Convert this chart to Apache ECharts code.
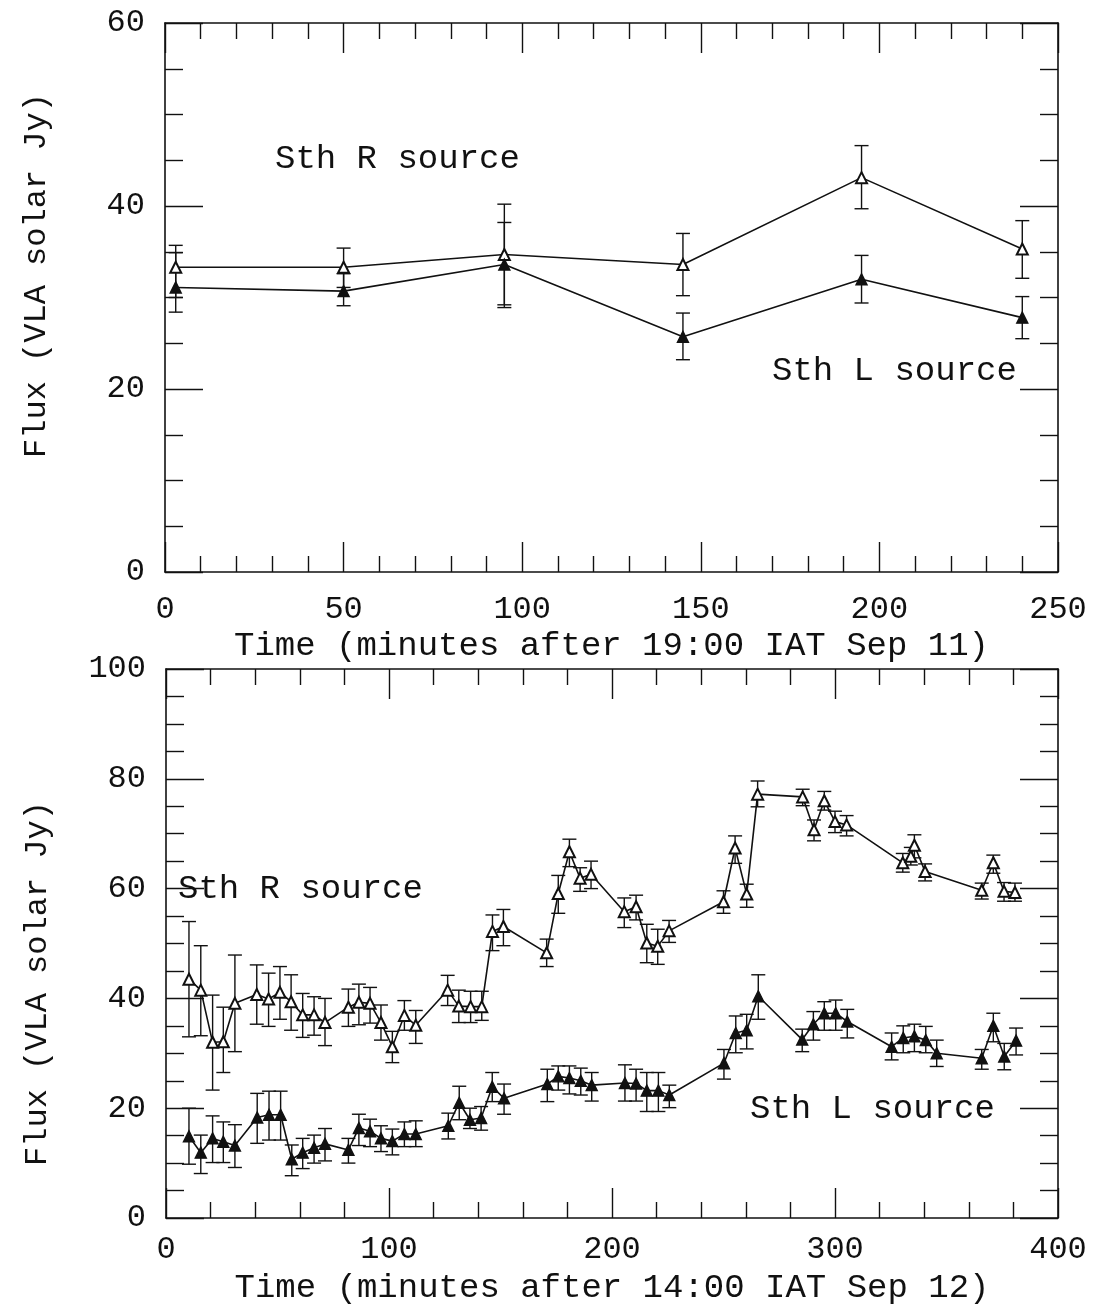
<!DOCTYPE html>
<html>
<head>
<meta charset="utf-8">
<title>VLA solar flux of the southern sources</title>
<script src="https://cdn.jsdelivr.net/npm/echarts@6/dist/echarts.min.js"></script>
<style>
  html, body { margin: 0; padding: 0; background: #fff; }
  #chart { width: 1098px; height: 1313px; }
</style>
</head>
<body>
<div id="chart"></div>
<script>
// ---- Upper panel: Sep 11, minutes after 19:00 IAT ----
const topTime  = [3, 50, 95, 145, 195, 240];
const topFluxR = [33.3, 33.3, 34.7, 33.6, 43.1, 35.3];
const topLoR   = [30.0, 31.1, 29.2, 30.2, 39.7, 32.1];
const topHiR   = [35.7, 35.4, 40.2, 37.0, 46.6, 38.4];
const topFluxL = [31.1, 30.7, 33.6, 25.7, 32.0, 27.8];
const topLoL   = [28.4, 29.1, 28.9, 23.2, 29.4, 25.5];
const topHiL   = [34.9, 32.6, 38.2, 28.3, 34.6, 30.1];

// ---- Lower panel: Sep 12, minutes after 14:00 IAT ----
const botTimeR = [10.3, 15.6, 20.9, 25.7, 30.9, 40.7, 46.0, 51.1, 56.1, 61.3, 66.4, 71.3,
  81.8, 86.5, 91.5, 96.4, 101.5, 106.9, 112.0, 126.3, 131.3, 136.6, 141.6, 146.4, 151.3,
  170.7, 175.9, 180.9, 185.7, 190.6, 205.5, 210.8, 215.6, 220.5, 225.6, 250.0, 255.2,
  260.4, 265.3, 285.5, 290.6, 295.2, 300.0, 305.2, 330.4, 334.0, 335.6, 340.4, 365.8,
  371.0, 375.8, 380.7];
const botFluxR = [43.5, 41.5, 32.0, 32.1, 39.1, 40.7, 39.9, 41.1, 39.4, 37.0, 37.0, 35.6,
  38.4, 39.3, 39.1, 35.6, 31.2, 36.9, 35.1, 41.5, 38.6, 38.5, 38.5, 52.2, 53.1,
  48.3, 59.1, 66.7, 61.9, 62.6, 55.8, 56.7, 50.1, 49.5, 52.3, 57.6, 67.4,
  59.0, 77.2, 76.7, 70.7, 76.0, 72.2, 71.6, 64.7, 65.9, 67.9, 63.1, 59.7,
  64.7, 59.5, 59.3];
const botLoR = [33.0, 33.2, 23.3, 26.5, 30.3, 35.3, 34.9, 36.2, 34.2, 32.9, 33.3, 31.4,
  34.9, 35.2, 35.5, 32.4, 28.3, 34.2, 31.8, 38.7, 35.6, 35.6, 36.0, 48.7, 49.6,
  45.8, 55.5, 64.0, 59.5, 60.0, 52.9, 54.3, 46.5, 46.2, 50.2, 55.5, 64.6,
  56.6, 74.9, 75.1, 68.7, 74.3, 70.2, 69.6, 63.0, 64.3, 65.6, 61.4, 58.1,
  62.8, 57.7, 57.7];
const botHiR = [54.0, 49.6, 40.6, 38.4, 47.9, 46.1, 44.6, 45.8, 44.3, 40.9, 40.3, 40.0,
  41.7, 42.6, 42.0, 38.8, 34.0, 39.6, 37.8, 44.2, 41.5, 41.3, 41.3, 55.2, 56.2,
  50.8, 62.4, 69.0, 63.8, 65.0, 58.3, 58.8, 53.5, 52.6, 54.2, 59.6, 69.6,
  60.8, 79.6, 78.1, 72.5, 77.7, 74.1, 73.3, 66.4, 67.5, 69.8, 64.5, 61.0,
  66.1, 61.1, 61.0];

const botTimeL = [10.3, 15.6, 20.9, 25.7, 30.9, 40.9, 46.2, 51.4, 56.4, 61.3, 66.4, 71.3,
  81.8, 86.5, 91.5, 96.4, 101.5, 106.9, 112.0, 126.6, 131.5, 136.3, 141.3, 146.3, 151.6,
  171.0, 175.9, 180.9, 186.0, 190.9, 205.8, 210.8, 215.6, 220.8, 225.7, 250.2, 255.5,
  260.4, 265.6, 285.3, 290.3, 295.2, 300.3, 305.5, 325.4, 330.6, 335.6, 340.7, 345.6,
  365.8, 371.0, 375.9, 381.2];
const botFluxL = [14.9, 11.9, 14.5, 13.9, 13.2, 18.3, 18.8, 18.8, 10.7, 11.9, 12.8, 13.5,
  12.4, 16.4, 15.8, 14.5, 14.0, 15.3, 15.3, 16.8, 21.0, 17.9, 18.2, 23.9, 21.8,
  24.4, 25.8, 25.5, 25.0, 24.2, 24.6, 24.5, 23.2, 23.2, 22.4, 28.2, 33.7,
  34.2, 40.4, 32.5, 35.3, 37.3, 37.3, 35.8, 31.2, 32.8, 33.1, 32.4, 30.0,
  29.1, 35.0, 29.4, 32.3];
const botLoL = [9.8, 8.1, 10.1, 10.1, 9.2, 13.6, 14.2, 14.2, 7.7, 9.0, 10.0, 10.4,
  10.0, 13.2, 13.0, 12.1, 11.5, 13.0, 13.0, 14.4, 17.9, 16.3, 16.0, 21.2, 18.9,
  21.2, 23.3, 22.6, 22.4, 21.3, 21.3, 21.3, 19.4, 19.4, 20.1, 25.3, 30.1,
  30.8, 36.2, 30.3, 32.4, 34.2, 34.2, 32.8, 28.8, 30.1, 30.3, 30.1, 27.6,
  27.1, 32.1, 27.0, 29.7];
const botHiL = [20.0, 15.1, 18.6, 17.5, 17.0, 22.7, 23.1, 23.1, 13.3, 14.5, 15.1, 16.3,
  14.5, 18.9, 18.0, 16.8, 16.2, 17.5, 17.7, 19.1, 24.0, 20.0, 20.3, 26.5, 24.4,
  27.1, 27.7, 27.7, 27.3, 26.5, 27.9, 27.1, 26.5, 26.5, 24.2, 30.7, 36.8,
  37.1, 44.3, 34.4, 37.6, 39.4, 39.7, 38.0, 33.7, 35.0, 35.3, 34.9, 32.4,
  30.7, 37.3, 31.8, 34.6];

// Axis tick labels
const topXTicks = [0, 50, 100, 150, 200, 250];
const topYTicks = [0, 20, 40, 60];
const botXTicks = [0, 100, 200, 300, 400];
const botYTicks = [0, 20, 40, 60, 80, 100];

const FONT = '"Liberation Mono", "Courier New", monospace';
const INK = '#111';

const zip2 = (a, b) => a.map((v, i) => [v, b[i]]);
const zip3 = (a, b, c) => a.map((v, i) => [v, b[i], c[i]]);

// vertical error bar with short horizontal caps
function renderErrorBar(params, api) {
  const x = api.value(0);
  const lo = api.coord([x, api.value(1)]);
  const hi = api.coord([x, api.value(2)]);
  const w = 7;
  const style = { stroke: INK, lineWidth: 1.4 };
  return {
    type: 'group',
    children: [
      { type: 'line', shape: { x1: lo[0], y1: lo[1], x2: hi[0], y2: hi[1] }, style },
      { type: 'line', shape: { x1: lo[0] - w, y1: lo[1], x2: lo[0] + w, y2: lo[1] }, style },
      { type: 'line', shape: { x1: hi[0] - w, y1: hi[1], x2: hi[0] + w, y2: hi[1] }, style }
    ]
  };
}

function frameAxis(base, extra) {
  return Object.assign({
    type: 'value',
    axisLine: { show: true, onZero: false, lineStyle: { color: INK, width: 1.6 } },
    splitLine: { show: false },
    minorSplitLine: { show: false }
  }, base, extra);
}

function xAxes(gridIndex, max, interval, ticks, minorSplit, labelMargin, name, nameGap) {
  const common = {
    gridIndex, min: 0, max, interval,
    axisTick: { show: true, inside: true, length: 30, lineStyle: { color: INK, width: 1.4 } },
    minorTick: { show: true, splitNumber: minorSplit, length: 16, lineStyle: { color: INK, width: 1.4 } }
  };
  return [
    frameAxis(common, {
      position: 'bottom',
      name, nameLocation: 'middle', nameGap,
      nameTextStyle: { fontFamily: FONT, fontSize: 34, color: INK },
      axisLabel: {
        show: true, margin: labelMargin, fontFamily: FONT, fontSize: 32, color: INK,
        formatter: v => (ticks.includes(v) ? String(v) : '')
      }
    }),
    frameAxis(common, { position: 'top', axisLabel: { show: false } })
  ];
}

function yAxes(gridIndex, max, ticks, name, namePadding) {
  const common = {
    gridIndex, min: 0, max, interval: 20,
    axisTick: { show: true, inside: true, length: 38, lineStyle: { color: INK, width: 1.4 } },
    minorTick: { show: true, splitNumber: 4, length: 18, lineStyle: { color: INK, width: 1.4 } }
  };
  return [
    frameAxis(common, {
      position: 'left',
      name, nameLocation: 'middle', nameGap: 112,
      nameTextStyle: { fontFamily: FONT, fontSize: 32, color: INK, padding: namePadding },
      axisLabel: {
        show: true, margin: 20, fontFamily: FONT, fontSize: 32, color: INK,
        formatter: v => (ticks.includes(v) ? String(v) : '')
      }
    }),
    frameAxis(common, { position: 'right', axisLabel: { show: false } })
  ];
}

function fluxSeries(xi, yi, data, symbol, z) {
  return {
    type: 'line', xAxisIndex: xi, yAxisIndex: yi, data,
    symbol, symbolSize: 11, showSymbol: true,
    lineStyle: { color: INK, width: 1.6 },
    itemStyle: { color: INK, borderColor: INK, borderWidth: 1.4 },
    z, animation: false, silent: true
  };
}

function errSeries(xi, yi, data) {
  return {
    type: 'custom', xAxisIndex: xi, yAxisIndex: yi, data,
    renderItem: renderErrorBar,
    encode: { x: 0, y: [1, 2] },
    z: 2, animation: false, silent: true
  };
}

function label(text, left, top) {
  return {
    type: 'text', left, top, silent: true,
    style: { text, font: '34px ' + FONT, fill: INK }
  };
}

const chart = echarts.init(document.getElementById('chart'), null, { renderer: 'canvas' });

chart.setOption({
  backgroundColor: '#fff',
  animation: false,
  grid: [
    { left: 165, top: 23, width: 893, height: 549 },
    { left: 166, top: 669, width: 892, height: 549 }
  ],
  xAxis: [
    ...xAxes(0, 250, 50, topXTicks, 5, 22, 'Time (minutes after 19:00 IAT Sep 11)', 57),
    ...xAxes(1, 400, 100, botXTicks, 5, 16, 'Time (minutes after 14:00 IAT Sep 12)', 53)
  ],
  yAxis: [
    ...yAxes(0, 60, topYTicks, 'Flux (VLA solar Jy)', [0, 0, 0, 44]),
    ...yAxes(1, 100, botYTicks, 'Flux (VLA solar Jy)', [0, 80, 0, 0])
  ],
  series: [
    errSeries(0, 0, zip3(topTime, topLoR, topHiR)),
    errSeries(0, 0, zip3(topTime, topLoL, topHiL)),
    fluxSeries(0, 0, zip2(topTime, topFluxR), 'emptyTriangle', 4),
    fluxSeries(0, 0, zip2(topTime, topFluxL), 'triangle', 4),

    errSeries(2, 2, zip3(botTimeR, botLoR, botHiR)),
    errSeries(2, 2, zip3(botTimeL, botLoL, botHiL)),
    fluxSeries(2, 2, zip2(botTimeR, botFluxR), 'emptyTriangle', 4),
    fluxSeries(2, 2, zip2(botTimeL, botFluxL), 'triangle', 4)
  ],
  graphic: [
    label('Sth R source', 275, 142),
    label('Sth L source', 772, 354),
    label('Sth R source', 178, 872),
    label('Sth L source', 750, 1092)
  ]
});
</script>
</body>
</html>
